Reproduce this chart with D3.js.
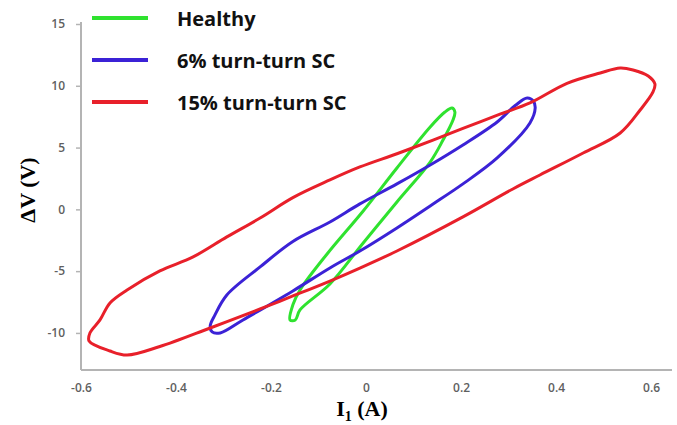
<!DOCTYPE html>
<html>
<head>
<meta charset="utf-8">
<script src="https://cdn.jsdelivr.net/npm/d3@7"></script>
<style>
  body { margin: 0; background: #fff; }
  svg { display: block; }
</style>
</head>
<body>
<div id="chart"></div>
<script>
// loop points [I1 (A), dV (V)]
const healthy = [
  [-0.160, -8.95], [-0.154, -7.72], [-0.139, -6.52], [-0.082, -3.61], [-0.006, -0.13],
  [0.065, 3.35], [0.135, 6.67], [0.166, 7.88], [0.181, 8.20], [0.187, 7.88],
  [0.183, 7.23], [0.162, 5.61], [0.135, 3.83], [0.065, 0.60], [-0.006, -2.72],
  [-0.076, -6.04], [-0.139, -8.14], [-0.149, -8.95]
];
const sc6 = [
  [-0.328, -9.42], [-0.318, -8.54], [-0.293, -6.93], [-0.223, -4.66], [-0.154, -2.60],
  [-0.076, -1.02], [-0.013, 0.44], [0.065, 2.06], [0.135, 3.59], [0.204, 5.21],
  [0.276, 7.07], [0.314, 8.40], [0.339, 9.01], [0.352, 8.77], [0.356, 8.20],
  [0.345, 6.99], [0.276, 4.16], [0.204, 2.06], [0.135, 0.28], [0.065, -1.50],
  [-0.013, -3.37], [-0.076, -4.74], [-0.154, -6.60], [-0.259, -8.95], [-0.307, -10.0],
  [-0.324, -9.92]
];
const sc15 = [
  [-0.583, -10.65], [-0.581, -9.99], [-0.560, -8.95], [-0.539, -7.57], [-0.503, -6.52],
  [-0.434, -4.98], [-0.364, -3.85], [-0.293, -2.23], [-0.223, -0.70], [-0.154, 0.95],
  [-0.076, 2.38], [-0.013, 3.43], [0.065, 4.50], [0.141, 5.60], [0.204, 6.55],
  [0.282, 7.70], [0.345, 8.61], [0.423, 10.20], [0.493, 11.04], [0.535, 11.44],
  [0.562, 11.28], [0.594, 10.79], [0.608, 10.15], [0.604, 9.50], [0.577, 8.04],
  [0.535, 6.18], [0.457, 4.56], [0.366, 2.78], [0.309, 1.65], [0.204, -0.61],
  [0.065, -3.37], [-0.013, -4.75], [-0.076, -5.80], [-0.154, -7.01], [-0.223, -8.06],
  [-0.328, -9.60], [-0.434, -11.10], [-0.503, -11.79], [-0.539, -11.46]
];

const seriesNames = ["Healthy", "6% turn-turn SC", "15% turn-turn SC"];
const seriesColors = ["#2fe22f", "#3b22d6", "#e8202a"];

const xTicks = [-0.6, -0.4, -0.2, 0, 0.2, 0.4, 0.6];
const xTickLabels = ["-0.6", "-0.4", "-0.2", "0", "0.2", "0.4", "0.6"];
const yTicks = [-10, -5, 0, 5, 10, 15];
const yTickLabels = ["-10", "-5", "0", "5", "10", "15"];

const W = 677, H = 425;
const svg = d3.select("#chart").append("svg").attr("width", W).attr("height", H);

const x = d3.scaleLinear().domain([-0.6, 0.644]).range([81, 672]);
const y = d3.scaleLinear().domain([-13, 15]).range([370, 24]);

// axes
const xAxis = svg.append("g")
  .attr("transform", "translate(0," + y(-13) + ")")
  .call(d3.axisBottom(x).tickValues(xTicks).tickSize(0).tickPadding(13)
    .tickFormat((d, i) => xTickLabels[i]));
const yAxis = svg.append("g")
  .attr("transform", "translate(" + x(-0.6) + ",0)")
  .call(d3.axisLeft(y).tickValues(yTicks).tickSize(5).tickPadding(11)
    .tickFormat((d, i) => yTickLabels[i]));

for (let ax of [xAxis, yAxis]) {
  ax.select(".domain").attr("stroke", "#b4b4b4").attr("stroke-width", 2);
  ax.selectAll(".tick line").attr("stroke", "#b4b4b4").attr("stroke-width", 1.5);
  ax.selectAll(".tick text")
    .attr("fill", "#5f5f5f")
    .style("font-family", "'Open Sans', sans-serif")
    .style("font-size", "12px")
    .style("font-weight", 600);
}
// x axis line runs from the y axis
xAxis.select(".domain").attr("d", "M" + x(-0.6) + ",0H" + x(0.644));
yAxis.select(".domain").attr("d", "M0," + (y(15) - 2) + "V" + y(-13));

// axis titles
svg.append("text")
  .attr("x", 362).attr("y", 416)
  .attr("text-anchor", "middle")
  .style("font-family", "'Liberation Serif', 'Times New Roman', serif")
  .style("font-size", "22px").style("font-weight", "bold")
  .html('I<tspan dy="5" font-size="14px">1</tspan><tspan dy="-5"> (A)</tspan>');

svg.append("text")
  .attr("transform", "translate(35,190) rotate(-90)")
  .attr("text-anchor", "middle")
  .style("font-family", "'Liberation Serif', 'Times New Roman', serif")
  .style("font-size", "22px").style("font-weight", "bold")
  .text("ΔV (V)");

// loops
const line = d3.line()
  .x(d => x(d[0])).y(d => y(d[1]))
  .curve(d3.curveCatmullRomClosed.alpha(0.5));

const loops = [healthy, sc6, sc15];
svg.append("g").selectAll("path")
  .data(loops)
  .join("path")
  .attr("d", line)
  .attr("fill", "none")
  .attr("stroke", (d, i) => seriesColors[i])
  .attr("stroke-width", 3)
  .attr("stroke-linejoin", "round");

// legend
const legend = svg.append("g");
const legendY = [18, 60, 102];
seriesNames.forEach((name, i) => {
  legend.append("line")
    .attr("x1", 92).attr("x2", 148)
    .attr("y1", legendY[i]).attr("y2", legendY[i])
    .attr("stroke", seriesColors[i]).attr("stroke-width", 4);
  legend.append("text")
    .attr("x", 177).attr("y", legendY[i] + 8)
    .style("font-family", "'Open Sans', sans-serif")
    .style("font-size", "20px").style("font-weight", "bold")
    .attr("fill", "#111")
    .text(name);
});
</script>
</body>
</html>
